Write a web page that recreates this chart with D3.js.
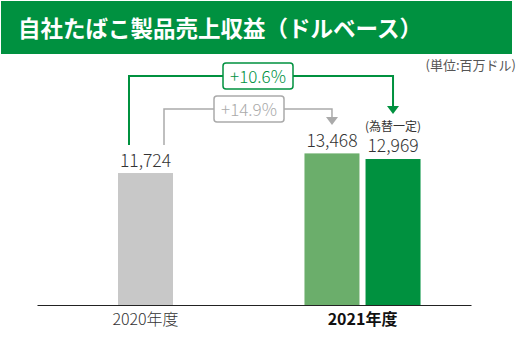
<!DOCTYPE html>
<html>
<head>
<meta charset="utf-8" />
<script src="https://cdnjs.cloudflare.com/ajax/libs/d3/7.8.5/d3.min.js"></script>
<style>
  body { margin: 0; background: #fff; }
  svg { display: block; font-family: "Noto Sans CJK JP", "Noto Sans", sans-serif; }
</style>
</head>
<body>
<svg id="chart" width="520" height="351"></svg>
<script>
const title = '自社たばこ製品売上収益（ドルベース）';
const unitLabel = '(単位:百万ドル)';
const years = ['2020年度', '2021年度'];
const actual = [11724, 13468];
const constantFx = [null, 12969];
const constantFxNote = '(為替一定)';
const growthActual = '+14.9%';
const growthFx = '+10.6%';

const svg = d3.select('#chart');
const baseY = 305;
const fmt = d3.format(',');

// title bar
svg.append('rect').attr('x', 1).attr('y', 1).attr('width', 511).attr('height', 53).attr('fill', '#009140');
svg.append('text').attr('x', 18).attr('y', 37).attr('fill', '#fff')
  .attr('font-size', 22.5).attr('font-weight', 'bold').text(title);
svg.append('text').attr('x', 516).attr('y', 70).attr('text-anchor', 'end')
  .attr('font-size', 13).attr('fill', '#555').text(unitLabel);

let x = d3.scaleBand().domain(years).range([37, 471]).paddingOuter(0)
let y = d3.scaleLinear().domain([0, 13468]).range([baseY, 153.4])
let sub = d3.scaleBand().domain(['actual', 'fx']).range([-58, 58]).paddingInner(0.1)
const bw = 55

function cx(i, s) {
  let c = x(years[i]) + x.bandwidth() / 2
  if (constantFx[i] == null) return c
  return c + sub(s) + sub.bandwidth() / 2
}

const bars = []
years.forEach(function(d, i) {
  bars.push({ i: i, s: 'actual', v: actual[i], color: i == 0 ? '#c8c8c8' : '#6bae6b' })
  if (constantFx[i] != null) bars.push({ i: i, s: 'fx', v: constantFx[i], color: '#00913f' })
})

svg.selectAll('rect.bar').data(bars).enter().append('rect')
  .attr('class', 'bar')
  .attr('x', function(d) { return cx(d.i, d.s) - bw / 2 })
  .attr('y', function(d) { return y(d.v) })
  .attr('width', bw)
  .attr('height', function(d) { return baseY - y(d.v) })
  .attr('fill', function(d) { return d.color })

svg.selectAll('text.val').data(bars).enter().append('text')
  .attr('class', 'val')
  .attr('x', function(d) { return cx(d.i, d.s) })
  .attr('y', function(d) { return d.s == 'fx' ? 152 : y(d.v) - 6 })
  .attr('text-anchor', 'middle').attr('font-size', 17.5).attr('font-weight', 300).attr('fill', '#333')
  .text(function(d) { return fmt(d.v) })

svg.append('text').attr('x', cx(1, 'fx')).attr('y', 131).attr('text-anchor', 'middle')
  .attr('font-size', 12).attr('fill', '#333').text(constantFxNote)

// axis
let xAxis = d3.axisBottom(x).tickSize(0).tickPadding(8.5)
let ax = svg.append('g').attr('transform', 'translate(0,' + baseY + ')').call(xAxis)
ax.select('.domain').attr('stroke', '#222').attr('stroke-width', 1.2)
ax.selectAll('text').attr('font-size', 16)
  .attr('font-family', '"Noto Sans CJK JP", sans-serif')
  .attr('font-weight', function(d, i) { return i == 1 ? 'bold' : 300 })
  .attr('fill', function(d, i) { return i == 1 ? '#111' : '#333' })

// growth brackets
function bracket(x0, x1, yTop, yStart, yEnd, color, sw, label, boxX, boxW, boxTop) {
  svg.append('path')
    .attr('d', 'M' + x0 + ',' + yStart + 'V' + yTop + 'H' + x1 + 'V' + (yEnd - 7))
    .attr('fill', 'none').attr('stroke', color).attr('stroke-width', sw)
  svg.append('path')
    .attr('d', 'M' + (x1 - 6) + ',' + (yEnd - 8) + 'L' + (x1 + 6) + ',' + (yEnd - 8) + 'L' + x1 + ',' + yEnd + 'Z')
    .attr('fill', color)
  svg.append('rect').attr('x', boxX).attr('y', boxTop).attr('width', boxW).attr('height', 26)
    .attr('rx', 3).attr('fill', '#fff').attr('stroke', color).attr('stroke-width', 1.5)
  svg.append('text').attr('x', boxX + boxW / 2).attr('y', boxTop + 19.5).attr('text-anchor', 'middle')
    .attr('font-size', 17).attr('font-weight', 300).attr('fill', color).text(label)
}

bracket(164, cx(1, 'actual'), 109, 145, 125, '#aaaaaa', 1.5, growthActual, 214, 70, 96)
bracket(129, cx(1, 'fx'), 76, 145, 114, '#00913f', 2, growthFx, 223, 70, 63)
</script>
</body>
</html>
